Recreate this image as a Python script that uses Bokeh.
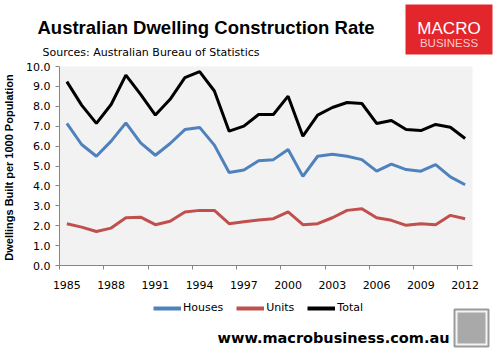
from bokeh.plotting import figure
from bokeh.layouts import column
from bokeh.models import (FixedTicker, NumeralTickFormatter, Legend, LegendItem, Range1d)
from bokeh.core.properties import value
from bokeh.embed import file_html
from bokeh.resources import INLINE

years = list(range(1985, 2013))
houses = [7.14, 6.08, 5.49, 6.25, 7.17, 6.16, 5.54, 6.13, 6.83, 6.94, 6.05, 4.67, 4.80,
          5.26, 5.32, 5.83, 4.48, 5.49, 5.59, 5.49, 5.32, 4.74, 5.09, 4.82, 4.74, 5.07,
          4.45, 4.06]
units = [2.10, 1.93, 1.71, 1.88, 2.40, 2.43, 2.05, 2.22, 2.69, 2.77, 2.77, 2.10, 2.20,
         2.29, 2.35, 2.69, 2.05, 2.10, 2.40, 2.77, 2.85, 2.40, 2.27, 2.02, 2.10, 2.05,
         2.52, 2.35]
total = [9.24, 8.06, 7.14, 8.09, 9.57, 8.60, 7.56, 8.35, 9.44, 9.74, 8.77, 6.75, 7.00,
         7.59, 7.59, 8.51, 6.50, 7.56, 7.94, 8.19, 8.14, 7.14, 7.29, 6.83, 6.78, 7.09,
         6.95, 6.38]
series_names = ["Houses", "Units", "Total"]
series_colors = ["#4f81bd", "#c0504d", "#000000"]
tick_years = years[::3]
y_ticks = list(range(0, 11))

W = 499
H_TOP, H_MAIN, H_BOT = 58, 240, 59


def blank(h):
    f = figure(width=W, height=h, output_backend="svg", toolbar_location=None,
               x_range=Range1d(0, W), y_range=Range1d(h, 0),
               min_border=0, x_axis_type=None, y_axis_type=None, frame_align=False)
    f.outline_line_color = None
    f.xgrid.visible = False
    f.ygrid.visible = False
    f.background_fill_color = "white"
    f.border_fill_color = "white"
    return f


# ---------- header ----------
top = blank(H_TOP)
top.text(x=[37], y=[27], text=["Australian Dwelling Construction Rate"],
         text_font=value("Liberation Sans"), text_font_style="bold",
         text_font_size="18.5px", text_color="black", text_baseline="alphabetic")
top.text(x=[42], y=[52], text=["Sources: Australian Bureau of Statistics"],
         text_font=value("DejaVu Sans"), text_font_size="11px", text_color="black",
         text_baseline="alphabetic")
top.quad(left=[405], right=[492], top=[4], bottom=[54], fill_color="#e3262b",
         line_color=None)
top.text(x=[448.5], y=[28], text=["MACRO"], text_font=value("Liberation Sans"),
         text_font_size="17px", text_color="white", text_align="center",
         text_baseline="alphabetic")
top.text(x=[448.5], y=[42], text=["BUSINESS"], text_font=value("Liberation Sans"),
         text_font_size="11.5px", text_color="#f7caca", text_align="center",
         text_baseline="alphabetic")

# ---------- main chart ----------
FL, FR, FT, FB = 59, 472, 8, 207
p = figure(width=W, height=H_MAIN, output_backend="svg", toolbar_location=None,
           x_range=(years[0] - 0.5, years[-1] + 0.5), y_range=(0, 10),
           min_border_left=FL, min_border_right=W - FR, min_border_top=FT,
           min_border_bottom=H_MAIN - FB, frame_align=False)
p.background_fill_color = "#f2f2f2"
p.border_fill_color = "white"
p.outline_line_color = None
p.xgrid.visible = False
p.ygrid.visible = False

ax = p.xaxis[0]
ax.ticker = FixedTicker(ticks=tick_years, minor_ticks=[t - 0.5 for t in tick_years])
ax.major_tick_line_color = None
ax.major_tick_out = 0
ax.major_tick_in = 0
ax.minor_tick_out = 4
ax.minor_tick_in = 0
ax.minor_tick_line_color = "#868686"
ax.axis_line_color = "#868686"
ax.major_label_text_font = "DejaVu Sans"
ax.major_label_text_font_size = "11px"
ax.major_label_text_color = "black"
ax.major_label_standoff = 11

ay = p.yaxis[0]
ay.ticker = FixedTicker(ticks=y_ticks)
ay.formatter = NumeralTickFormatter(format="0.0")
ay.major_tick_out = 4
ay.major_tick_in = 0
ay.minor_tick_line_color = None
ay.major_tick_line_color = "#868686"
ay.axis_line_color = "#868686"
ay.major_label_text_font = "DejaVu Sans"
ay.major_label_text_font_size = "11px"
ay.major_label_text_color = "black"
ay.major_label_standoff = 5
ay.axis_label = "Dwellings  Built per 1000 Population"
ay.axis_label_text_font = "Liberation Sans"
ay.axis_label_text_font_style = "bold"
ay.axis_label_text_font_size = "11px"
ay.axis_label_text_color = "black"
ay.axis_label_standoff = 8

for vals, col in zip([houses, units, total], series_colors):
    p.line(years, vals, line_color=col, line_width=3)

# ---------- footer ----------
bot = blank(H_BOT)
# legend proxies: the same series, drawn in this footer's pixel space (they fall
# outside its visible x range, so only their legend swatches show)
proxies = [bot.line(years, vals, line_color=c, line_width=4)
           for vals, c in zip([houses, units, total], series_colors)]
legend = Legend(items=[LegendItem(label=n, renderers=[r]) for n, r in zip(series_names, proxies)],
                orientation="horizontal", location=(153, H_BOT - 16),
                glyph_width=28, glyph_height=12, label_height=12, label_standoff=2,
                spacing=13, padding=0, margin=0, border_line_color=None,
                background_fill_alpha=0, label_text_font="DejaVu Sans",
                label_text_font_size="11px", label_text_color="black")
bot.add_layout(legend, "center")
bot.text(x=[449], y=[39], text=["www.macrobusiness.com.au"],
         text_font=value("DejaVu Sans"), text_font_style="bold", text_font_size="14.5px",
         text_color="black", text_align="right", text_baseline="alphabetic")
bot.quad(left=[454], right=[488], top=[11], bottom=[48], fill_color="#f4f4f4",
         line_color="#9a9a9a", line_width=2)
bot.quad(left=[457], right=[485], top=[14], bottom=[45], fill_color="#a9a9a9",
         line_color=None)

layout = column(top, p, bot, spacing=0)
open("out.html", "w").write(file_html(layout, INLINE))
